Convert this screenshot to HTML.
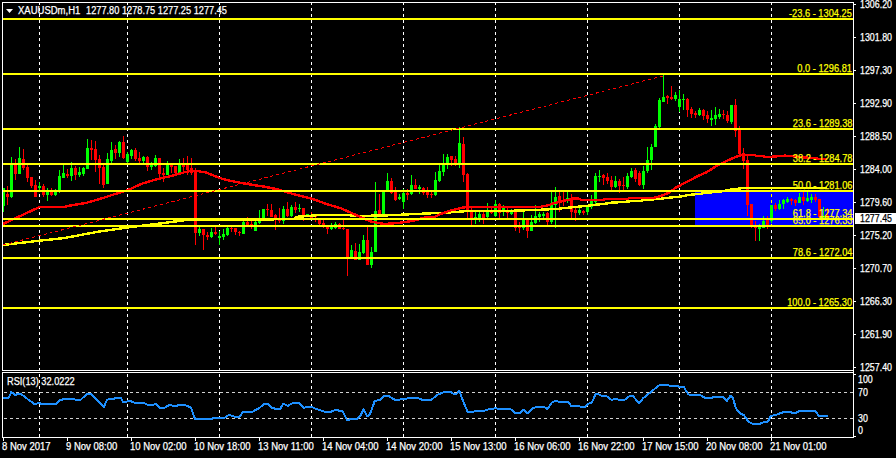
<!DOCTYPE html><html><head><meta charset="utf-8"><style>html,body{margin:0;padding:0;background:#000;overflow:hidden}body{width:896px;height:458px;position:relative;font-family:"Liberation Sans",sans-serif}svg{position:absolute;left:0;top:0}.t{position:absolute;color:#fff;font-size:10px;line-height:12px;white-space:nowrap;letter-spacing:0}.y{color:#ff0}.t{-webkit-text-stroke:0.25px currentColor}</style></head><body>
<svg width="896" height="458" viewBox="0 0 896 458" shape-rendering="crispEdges">
<rect width="896" height="458" fill="#000"/>
<rect x="695" y="191" width="158" height="35" fill="#0000ff"/>
<line x1="39.5" y1="3" x2="39.5" y2="370" stroke="#fff" stroke-width="1" stroke-dasharray="3 3" stroke-dashoffset="1"/>
<line x1="39.5" y1="373" x2="39.5" y2="437" stroke="#fff" stroke-width="1" stroke-dasharray="3 3" stroke-dashoffset="5"/>
<line x1="127.5" y1="3" x2="127.5" y2="370" stroke="#fff" stroke-width="1" stroke-dasharray="3 3" stroke-dashoffset="1"/>
<line x1="127.5" y1="373" x2="127.5" y2="437" stroke="#fff" stroke-width="1" stroke-dasharray="3 3" stroke-dashoffset="5"/>
<line x1="219.5" y1="3" x2="219.5" y2="370" stroke="#fff" stroke-width="1" stroke-dasharray="3 3" stroke-dashoffset="1"/>
<line x1="219.5" y1="373" x2="219.5" y2="437" stroke="#fff" stroke-width="1" stroke-dasharray="3 3" stroke-dashoffset="5"/>
<line x1="311.5" y1="3" x2="311.5" y2="370" stroke="#fff" stroke-width="1" stroke-dasharray="3 3" stroke-dashoffset="1"/>
<line x1="311.5" y1="373" x2="311.5" y2="437" stroke="#fff" stroke-width="1" stroke-dasharray="3 3" stroke-dashoffset="5"/>
<line x1="403.5" y1="3" x2="403.5" y2="370" stroke="#fff" stroke-width="1" stroke-dasharray="3 3" stroke-dashoffset="1"/>
<line x1="403.5" y1="373" x2="403.5" y2="437" stroke="#fff" stroke-width="1" stroke-dasharray="3 3" stroke-dashoffset="5"/>
<line x1="495.5" y1="3" x2="495.5" y2="370" stroke="#fff" stroke-width="1" stroke-dasharray="3 3" stroke-dashoffset="1"/>
<line x1="495.5" y1="373" x2="495.5" y2="437" stroke="#fff" stroke-width="1" stroke-dasharray="3 3" stroke-dashoffset="5"/>
<line x1="587.5" y1="3" x2="587.5" y2="370" stroke="#fff" stroke-width="1" stroke-dasharray="3 3" stroke-dashoffset="1"/>
<line x1="587.5" y1="373" x2="587.5" y2="437" stroke="#fff" stroke-width="1" stroke-dasharray="3 3" stroke-dashoffset="5"/>
<line x1="679.5" y1="3" x2="679.5" y2="370" stroke="#fff" stroke-width="1" stroke-dasharray="3 3" stroke-dashoffset="1"/>
<line x1="679.5" y1="373" x2="679.5" y2="437" stroke="#fff" stroke-width="1" stroke-dasharray="3 3" stroke-dashoffset="5"/>
<line x1="771.5" y1="3" x2="771.5" y2="370" stroke="#fff" stroke-width="1" stroke-dasharray="3 3" stroke-dashoffset="1"/>
<line x1="771.5" y1="373" x2="771.5" y2="437" stroke="#fff" stroke-width="1" stroke-dasharray="3 3" stroke-dashoffset="5"/>
<line x1="771.5" y1="192" x2="771.5" y2="225" stroke="#ff0" stroke-width="1" stroke-dasharray="3 3" stroke-dashoffset="4"/>
<rect x="3" y="188" width="1" height="24" fill="#00ff00"/>
<rect x="3" y="188" width="2" height="18" fill="#00ff00"/>
<rect x="7" y="186" width="1" height="19" fill="#ff0000"/>
<rect x="6" y="194" width="3" height="3" fill="#ff0000"/>
<rect x="11" y="157" width="1" height="41" fill="#00ff00"/>
<rect x="10" y="164" width="3" height="33" fill="#00ff00"/>
<rect x="15" y="159" width="1" height="21" fill="#ff0000"/>
<rect x="14" y="164" width="3" height="10" fill="#ff0000"/>
<rect x="19" y="147" width="1" height="27" fill="#00ff00"/>
<rect x="18" y="158" width="3" height="16" fill="#00ff00"/>
<rect x="23" y="149" width="1" height="21" fill="#ff0000"/>
<rect x="22" y="159" width="3" height="9" fill="#ff0000"/>
<rect x="27" y="165" width="1" height="17" fill="#ff0000"/>
<rect x="26" y="167" width="3" height="11" fill="#ff0000"/>
<rect x="31" y="177" width="1" height="11" fill="#ff0000"/>
<rect x="30" y="177" width="3" height="9" fill="#ff0000"/>
<rect x="35" y="180" width="1" height="17" fill="#ff0000"/>
<rect x="34" y="185" width="3" height="12" fill="#ff0000"/>
<rect x="39" y="182" width="1" height="10" fill="#00ff00"/>
<rect x="38" y="186" width="3" height="2" fill="#00ff00"/>
<rect x="43" y="184" width="1" height="13" fill="#ff0000"/>
<rect x="42" y="186" width="3" height="9" fill="#ff0000"/>
<rect x="47" y="188" width="1" height="13" fill="#00ff00"/>
<rect x="46" y="192" width="3" height="3" fill="#00ff00"/>
<rect x="51" y="188" width="1" height="8" fill="#ff0000"/>
<rect x="50" y="192" width="3" height="3" fill="#ff0000"/>
<rect x="55" y="189" width="1" height="7" fill="#00ff00"/>
<rect x="54" y="192" width="3" height="3" fill="#00ff00"/>
<rect x="59" y="170" width="1" height="23" fill="#00ff00"/>
<rect x="58" y="176" width="3" height="15" fill="#00ff00"/>
<rect x="63" y="165" width="1" height="13" fill="#00ff00"/>
<rect x="62" y="173" width="3" height="5" fill="#00ff00"/>
<rect x="67" y="169" width="1" height="9" fill="#ff0000"/>
<rect x="66" y="174" width="3" height="2" fill="#ff0000"/>
<rect x="71" y="162" width="1" height="19" fill="#00ff00"/>
<rect x="70" y="168" width="3" height="8" fill="#00ff00"/>
<rect x="75" y="166" width="1" height="14" fill="#ff0000"/>
<rect x="74" y="168" width="3" height="7" fill="#ff0000"/>
<rect x="79" y="167" width="1" height="10" fill="#00ff00"/>
<rect x="78" y="172" width="3" height="3" fill="#00ff00"/>
<rect x="83" y="167" width="1" height="9" fill="#00ff00"/>
<rect x="82" y="168" width="3" height="6" fill="#00ff00"/>
<rect x="87" y="139" width="1" height="30" fill="#00ff00"/>
<rect x="86" y="148" width="3" height="21" fill="#00ff00"/>
<rect x="91" y="140" width="1" height="20" fill="#ff0000"/>
<rect x="90" y="148" width="3" height="2" fill="#ff0000"/>
<rect x="95" y="141" width="1" height="31" fill="#ff0000"/>
<rect x="94" y="149" width="3" height="11" fill="#ff0000"/>
<rect x="99" y="155" width="1" height="29" fill="#ff0000"/>
<rect x="98" y="159" width="3" height="9" fill="#ff0000"/>
<rect x="103" y="165" width="1" height="23" fill="#ff0000"/>
<rect x="102" y="167" width="3" height="18" fill="#ff0000"/>
<rect x="107" y="153" width="1" height="31" fill="#00ff00"/>
<rect x="106" y="159" width="3" height="25" fill="#00ff00"/>
<rect x="111" y="142" width="1" height="21" fill="#00ff00"/>
<rect x="110" y="150" width="3" height="11" fill="#00ff00"/>
<rect x="115" y="145" width="1" height="14" fill="#ff0000"/>
<rect x="114" y="149" width="3" height="4" fill="#ff0000"/>
<rect x="119" y="141" width="1" height="16" fill="#00ff00"/>
<rect x="118" y="142" width="3" height="11" fill="#00ff00"/>
<rect x="123" y="136" width="1" height="23" fill="#ff0000"/>
<rect x="122" y="142" width="3" height="16" fill="#ff0000"/>
<rect x="127" y="152" width="1" height="12" fill="#00ff00"/>
<rect x="126" y="154" width="3" height="8" fill="#00ff00"/>
<rect x="131" y="149" width="1" height="10" fill="#00ff00"/>
<rect x="130" y="150" width="3" height="6" fill="#00ff00"/>
<rect x="135" y="148" width="1" height="13" fill="#ff0000"/>
<rect x="134" y="150" width="3" height="9" fill="#ff0000"/>
<rect x="139" y="152" width="1" height="11" fill="#ff0000"/>
<rect x="138" y="158" width="3" height="3" fill="#ff0000"/>
<rect x="143" y="156" width="1" height="7" fill="#00ff00"/>
<rect x="142" y="157" width="3" height="4" fill="#00ff00"/>
<rect x="147" y="156" width="1" height="15" fill="#ff0000"/>
<rect x="146" y="157" width="3" height="10" fill="#ff0000"/>
<rect x="151" y="162" width="1" height="8" fill="#00ff00"/>
<rect x="150" y="164" width="3" height="3" fill="#00ff00"/>
<rect x="155" y="155" width="1" height="12" fill="#00ff00"/>
<rect x="154" y="158" width="3" height="8" fill="#00ff00"/>
<rect x="159" y="158" width="1" height="20" fill="#ff0000"/>
<rect x="158" y="158" width="3" height="16" fill="#ff0000"/>
<rect x="163" y="168" width="1" height="14" fill="#ff0000"/>
<rect x="162" y="173" width="3" height="2" fill="#ff0000"/>
<rect x="167" y="161" width="1" height="14" fill="#00ff00"/>
<rect x="166" y="165" width="3" height="10" fill="#00ff00"/>
<rect x="171" y="163" width="1" height="10" fill="#ff0000"/>
<rect x="170" y="165" width="3" height="2" fill="#ff0000"/>
<rect x="175" y="166" width="1" height="8" fill="#ff0000"/>
<rect x="174" y="166" width="3" height="7" fill="#ff0000"/>
<rect x="179" y="159" width="1" height="14" fill="#00ff00"/>
<rect x="178" y="165" width="3" height="8" fill="#00ff00"/>
<rect x="183" y="158" width="1" height="14" fill="#ff0000"/>
<rect x="182" y="165" width="3" height="2" fill="#ff0000"/>
<rect x="187" y="156" width="1" height="19" fill="#ff0000"/>
<rect x="186" y="164" width="3" height="6" fill="#ff0000"/>
<rect x="191" y="158" width="1" height="17" fill="#ff0000"/>
<rect x="190" y="168" width="3" height="5" fill="#ff0000"/>
<rect x="195" y="168" width="1" height="77" fill="#ff0000"/>
<rect x="194" y="171" width="3" height="62" fill="#ff0000"/>
<rect x="199" y="227" width="1" height="9" fill="#00ff00"/>
<rect x="198" y="229" width="3" height="4" fill="#00ff00"/>
<rect x="203" y="229" width="1" height="21" fill="#ff0000"/>
<rect x="202" y="229" width="3" height="6" fill="#ff0000"/>
<rect x="207" y="232" width="1" height="8" fill="#ff0000"/>
<rect x="206" y="235" width="3" height="2" fill="#ff0000"/>
<rect x="211" y="228" width="1" height="10" fill="#00ff00"/>
<rect x="210" y="232" width="3" height="5" fill="#00ff00"/>
<rect x="215" y="227" width="1" height="8" fill="#ff0000"/>
<rect x="214" y="232" width="3" height="2" fill="#ff0000"/>
<rect x="219" y="231" width="1" height="14" fill="#00ff00"/>
<rect x="218" y="236" width="3" height="2" fill="#00ff00"/>
<rect x="223" y="229" width="1" height="11" fill="#00ff00"/>
<rect x="222" y="234" width="3" height="3" fill="#00ff00"/>
<rect x="227" y="227" width="1" height="9" fill="#00ff00"/>
<rect x="226" y="228" width="3" height="7" fill="#00ff00"/>
<rect x="231" y="227" width="1" height="5" fill="#ff0000"/>
<rect x="230" y="228" width="3" height="1" fill="#ff0000"/>
<rect x="235" y="228" width="1" height="7" fill="#ff0000"/>
<rect x="234" y="228" width="3" height="4" fill="#ff0000"/>
<rect x="239" y="231" width="1" height="5" fill="#ff0000"/>
<rect x="238" y="232" width="3" height="1" fill="#ff0000"/>
<rect x="243" y="221" width="1" height="13" fill="#00ff00"/>
<rect x="242" y="222" width="3" height="12" fill="#00ff00"/>
<rect x="247" y="217" width="1" height="10" fill="#ff0000"/>
<rect x="246" y="222" width="3" height="3" fill="#ff0000"/>
<rect x="251" y="221" width="1" height="8" fill="#ff0000"/>
<rect x="250" y="224" width="3" height="1" fill="#ff0000"/>
<rect x="255" y="221" width="1" height="10" fill="#00ff00"/>
<rect x="254" y="222" width="3" height="9" fill="#00ff00"/>
<rect x="259" y="210" width="1" height="14" fill="#00ff00"/>
<rect x="258" y="218" width="3" height="5" fill="#00ff00"/>
<rect x="263" y="209" width="1" height="10" fill="#00ff00"/>
<rect x="262" y="209" width="3" height="10" fill="#00ff00"/>
<rect x="267" y="204" width="1" height="12" fill="#ff0000"/>
<rect x="266" y="209" width="3" height="1" fill="#ff0000"/>
<rect x="271" y="204" width="1" height="13" fill="#ff0000"/>
<rect x="270" y="210" width="3" height="7" fill="#ff0000"/>
<rect x="275" y="214" width="1" height="16" fill="#ff0000"/>
<rect x="274" y="215" width="3" height="4" fill="#ff0000"/>
<rect x="279" y="208" width="1" height="15" fill="#ff0000"/>
<rect x="278" y="220" width="3" height="1" fill="#ff0000"/>
<rect x="283" y="206" width="1" height="18" fill="#00ff00"/>
<rect x="282" y="209" width="3" height="12" fill="#00ff00"/>
<rect x="287" y="202" width="1" height="15" fill="#ff0000"/>
<rect x="286" y="209" width="3" height="7" fill="#ff0000"/>
<rect x="291" y="205" width="1" height="12" fill="#00ff00"/>
<rect x="290" y="207" width="3" height="9" fill="#00ff00"/>
<rect x="295" y="202" width="1" height="11" fill="#ff0000"/>
<rect x="294" y="207" width="3" height="3" fill="#ff0000"/>
<rect x="299" y="204" width="1" height="8" fill="#00ff00"/>
<rect x="298" y="208" width="3" height="1" fill="#00ff00"/>
<rect x="303" y="208" width="1" height="13" fill="#ff0000"/>
<rect x="302" y="208" width="3" height="8" fill="#ff0000"/>
<rect x="307" y="214" width="1" height="2" fill="#00ff00"/>
<rect x="306" y="214" width="3" height="2" fill="#00ff00"/>
<rect x="311" y="212" width="1" height="8" fill="#ff0000"/>
<rect x="310" y="217" width="3" height="2" fill="#ff0000"/>
<rect x="315" y="214" width="1" height="8" fill="#ff0000"/>
<rect x="314" y="215" width="3" height="2" fill="#ff0000"/>
<rect x="319" y="219" width="1" height="6" fill="#ff0000"/>
<rect x="318" y="219" width="3" height="5" fill="#ff0000"/>
<rect x="323" y="220" width="1" height="8" fill="#ff0000"/>
<rect x="322" y="223" width="3" height="2" fill="#ff0000"/>
<rect x="327" y="227" width="1" height="7" fill="#ff0000"/>
<rect x="326" y="227" width="3" height="2" fill="#ff0000"/>
<rect x="331" y="223" width="1" height="7" fill="#00ff00"/>
<rect x="330" y="227" width="3" height="2" fill="#00ff00"/>
<rect x="335" y="222" width="1" height="7" fill="#00ff00"/>
<rect x="334" y="224" width="3" height="4" fill="#00ff00"/>
<rect x="339" y="223" width="1" height="6" fill="#ff0000"/>
<rect x="338" y="224" width="3" height="5" fill="#ff0000"/>
<rect x="343" y="220" width="1" height="10" fill="#ff0000"/>
<rect x="342" y="228" width="3" height="1" fill="#ff0000"/>
<rect x="347" y="229" width="1" height="47" fill="#ff0000"/>
<rect x="346" y="229" width="3" height="28" fill="#ff0000"/>
<rect x="351" y="245" width="1" height="12" fill="#00ff00"/>
<rect x="350" y="250" width="3" height="7" fill="#00ff00"/>
<rect x="355" y="243" width="1" height="17" fill="#ff0000"/>
<rect x="354" y="251" width="3" height="9" fill="#ff0000"/>
<rect x="359" y="244" width="1" height="16" fill="#00ff00"/>
<rect x="358" y="252" width="3" height="8" fill="#00ff00"/>
<rect x="363" y="235" width="1" height="19" fill="#00ff00"/>
<rect x="362" y="240" width="3" height="13" fill="#00ff00"/>
<rect x="367" y="227" width="1" height="38" fill="#ff0000"/>
<rect x="366" y="240" width="3" height="25" fill="#ff0000"/>
<rect x="371" y="247" width="1" height="21" fill="#00ff00"/>
<rect x="370" y="252" width="3" height="13" fill="#00ff00"/>
<rect x="375" y="182" width="1" height="70" fill="#00ff00"/>
<rect x="374" y="211" width="3" height="41" fill="#00ff00"/>
<rect x="379" y="194" width="1" height="21" fill="#ff0000"/>
<rect x="378" y="210" width="3" height="4" fill="#ff0000"/>
<rect x="383" y="192" width="1" height="22" fill="#00ff00"/>
<rect x="382" y="192" width="3" height="22" fill="#00ff00"/>
<rect x="387" y="173" width="1" height="19" fill="#00ff00"/>
<rect x="386" y="181" width="3" height="11" fill="#00ff00"/>
<rect x="391" y="178" width="1" height="16" fill="#ff0000"/>
<rect x="390" y="181" width="3" height="12" fill="#ff0000"/>
<rect x="395" y="187" width="1" height="14" fill="#ff0000"/>
<rect x="394" y="192" width="3" height="8" fill="#ff0000"/>
<rect x="399" y="194" width="1" height="6" fill="#00ff00"/>
<rect x="398" y="197" width="3" height="2" fill="#00ff00"/>
<rect x="403" y="189" width="1" height="20" fill="#00ff00"/>
<rect x="402" y="193" width="3" height="9" fill="#00ff00"/>
<rect x="407" y="189" width="1" height="11" fill="#ff0000"/>
<rect x="406" y="193" width="3" height="2" fill="#ff0000"/>
<rect x="411" y="175" width="1" height="20" fill="#00ff00"/>
<rect x="410" y="185" width="3" height="9" fill="#00ff00"/>
<rect x="415" y="179" width="1" height="10" fill="#ff0000"/>
<rect x="414" y="185" width="3" height="4" fill="#ff0000"/>
<rect x="419" y="185" width="1" height="9" fill="#00ff00"/>
<rect x="418" y="187" width="3" height="2" fill="#00ff00"/>
<rect x="423" y="187" width="1" height="8" fill="#ff0000"/>
<rect x="422" y="188" width="3" height="5" fill="#ff0000"/>
<rect x="427" y="187" width="1" height="11" fill="#ff0000"/>
<rect x="426" y="192" width="3" height="3" fill="#ff0000"/>
<rect x="431" y="192" width="1" height="6" fill="#ff0000"/>
<rect x="430" y="194" width="3" height="1" fill="#ff0000"/>
<rect x="435" y="172" width="1" height="24" fill="#00ff00"/>
<rect x="434" y="180" width="3" height="15" fill="#00ff00"/>
<rect x="439" y="165" width="1" height="17" fill="#00ff00"/>
<rect x="438" y="171" width="3" height="10" fill="#00ff00"/>
<rect x="443" y="154" width="1" height="22" fill="#00ff00"/>
<rect x="442" y="165" width="3" height="7" fill="#00ff00"/>
<rect x="447" y="154" width="1" height="15" fill="#00ff00"/>
<rect x="446" y="157" width="3" height="8" fill="#00ff00"/>
<rect x="451" y="156" width="1" height="10" fill="#ff0000"/>
<rect x="450" y="156" width="3" height="4" fill="#ff0000"/>
<rect x="455" y="156" width="1" height="10" fill="#ff0000"/>
<rect x="454" y="159" width="3" height="4" fill="#ff0000"/>
<rect x="459" y="127" width="1" height="41" fill="#00ff00"/>
<rect x="458" y="143" width="3" height="22" fill="#00ff00"/>
<rect x="463" y="137" width="1" height="45" fill="#ff0000"/>
<rect x="462" y="144" width="3" height="31" fill="#ff0000"/>
<rect x="467" y="173" width="1" height="45" fill="#ff0000"/>
<rect x="466" y="174" width="3" height="37" fill="#ff0000"/>
<rect x="471" y="208" width="1" height="17" fill="#ff0000"/>
<rect x="470" y="212" width="3" height="6" fill="#ff0000"/>
<rect x="475" y="212" width="1" height="12" fill="#00ff00"/>
<rect x="474" y="217" width="3" height="1" fill="#00ff00"/>
<rect x="479" y="212" width="1" height="10" fill="#00ff00"/>
<rect x="478" y="214" width="3" height="4" fill="#00ff00"/>
<rect x="483" y="212" width="1" height="12" fill="#ff0000"/>
<rect x="482" y="214" width="3" height="4" fill="#ff0000"/>
<rect x="487" y="203" width="1" height="15" fill="#00ff00"/>
<rect x="486" y="212" width="3" height="5" fill="#00ff00"/>
<rect x="491" y="207" width="1" height="7" fill="#ff0000"/>
<rect x="490" y="212" width="3" height="1" fill="#ff0000"/>
<rect x="495" y="200" width="1" height="17" fill="#00ff00"/>
<rect x="494" y="204" width="3" height="12" fill="#00ff00"/>
<rect x="499" y="203" width="1" height="15" fill="#ff0000"/>
<rect x="498" y="204" width="3" height="9" fill="#ff0000"/>
<rect x="503" y="205" width="1" height="11" fill="#00ff00"/>
<rect x="502" y="208" width="3" height="4" fill="#00ff00"/>
<rect x="507" y="208" width="1" height="10" fill="#ff0000"/>
<rect x="506" y="210" width="3" height="3" fill="#ff0000"/>
<rect x="511" y="209" width="1" height="6" fill="#00ff00"/>
<rect x="510" y="211" width="3" height="3" fill="#00ff00"/>
<rect x="515" y="211" width="1" height="20" fill="#ff0000"/>
<rect x="514" y="212" width="3" height="16" fill="#ff0000"/>
<rect x="519" y="222" width="1" height="11" fill="#ff0000"/>
<rect x="518" y="225" width="3" height="3" fill="#ff0000"/>
<rect x="523" y="212" width="1" height="18" fill="#00ff00"/>
<rect x="522" y="220" width="3" height="8" fill="#00ff00"/>
<rect x="527" y="220" width="1" height="18" fill="#ff0000"/>
<rect x="526" y="220" width="3" height="11" fill="#ff0000"/>
<rect x="531" y="215" width="1" height="16" fill="#00ff00"/>
<rect x="530" y="222" width="3" height="9" fill="#00ff00"/>
<rect x="535" y="205" width="1" height="19" fill="#00ff00"/>
<rect x="534" y="216" width="3" height="7" fill="#00ff00"/>
<rect x="539" y="212" width="1" height="10" fill="#00ff00"/>
<rect x="538" y="214" width="3" height="3" fill="#00ff00"/>
<rect x="543" y="212" width="1" height="6" fill="#00ff00"/>
<rect x="542" y="214" width="3" height="2" fill="#00ff00"/>
<rect x="547" y="212" width="1" height="13" fill="#ff0000"/>
<rect x="546" y="213" width="3" height="9" fill="#ff0000"/>
<rect x="551" y="192" width="1" height="32" fill="#00ff00"/>
<rect x="550" y="205" width="3" height="17" fill="#00ff00"/>
<rect x="555" y="187" width="1" height="41" fill="#00ff00"/>
<rect x="554" y="197" width="3" height="8" fill="#00ff00"/>
<rect x="559" y="192" width="1" height="20" fill="#ff0000"/>
<rect x="558" y="196" width="3" height="5" fill="#ff0000"/>
<rect x="563" y="192" width="1" height="14" fill="#ff0000"/>
<rect x="562" y="200" width="3" height="2" fill="#ff0000"/>
<rect x="567" y="192" width="1" height="11" fill="#00ff00"/>
<rect x="566" y="198" width="3" height="2" fill="#00ff00"/>
<rect x="571" y="194" width="1" height="24" fill="#ff0000"/>
<rect x="570" y="199" width="3" height="13" fill="#ff0000"/>
<rect x="575" y="208" width="1" height="13" fill="#ff0000"/>
<rect x="574" y="210" width="3" height="3" fill="#ff0000"/>
<rect x="579" y="208" width="1" height="7" fill="#00ff00"/>
<rect x="578" y="210" width="3" height="3" fill="#00ff00"/>
<rect x="583" y="210" width="1" height="5" fill="#ff0000"/>
<rect x="582" y="211" width="3" height="2" fill="#ff0000"/>
<rect x="587" y="205" width="1" height="10" fill="#00ff00"/>
<rect x="586" y="207" width="3" height="5" fill="#00ff00"/>
<rect x="591" y="195" width="1" height="14" fill="#00ff00"/>
<rect x="590" y="201" width="3" height="6" fill="#00ff00"/>
<rect x="595" y="173" width="1" height="31" fill="#00ff00"/>
<rect x="594" y="176" width="3" height="26" fill="#00ff00"/>
<rect x="599" y="170" width="1" height="12" fill="#00ff00"/>
<rect x="598" y="176" width="3" height="1" fill="#00ff00"/>
<rect x="603" y="174" width="1" height="11" fill="#ff0000"/>
<rect x="602" y="175" width="3" height="3" fill="#ff0000"/>
<rect x="607" y="173" width="1" height="11" fill="#ff0000"/>
<rect x="606" y="177" width="3" height="4" fill="#ff0000"/>
<rect x="611" y="176" width="1" height="14" fill="#ff0000"/>
<rect x="610" y="180" width="3" height="7" fill="#ff0000"/>
<rect x="615" y="176" width="1" height="12" fill="#00ff00"/>
<rect x="614" y="181" width="3" height="6" fill="#00ff00"/>
<rect x="619" y="179" width="1" height="14" fill="#ff0000"/>
<rect x="618" y="181" width="3" height="5" fill="#ff0000"/>
<rect x="623" y="177" width="1" height="13" fill="#ff0000"/>
<rect x="622" y="185" width="3" height="1" fill="#ff0000"/>
<rect x="627" y="173" width="1" height="16" fill="#00ff00"/>
<rect x="626" y="176" width="3" height="11" fill="#00ff00"/>
<rect x="631" y="168" width="1" height="10" fill="#00ff00"/>
<rect x="630" y="171" width="3" height="6" fill="#00ff00"/>
<rect x="635" y="168" width="1" height="14" fill="#ff0000"/>
<rect x="634" y="170" width="3" height="9" fill="#ff0000"/>
<rect x="639" y="171" width="1" height="15" fill="#ff0000"/>
<rect x="638" y="173" width="3" height="12" fill="#ff0000"/>
<rect x="643" y="166" width="1" height="23" fill="#00ff00"/>
<rect x="642" y="171" width="3" height="14" fill="#00ff00"/>
<rect x="647" y="147" width="1" height="26" fill="#00ff00"/>
<rect x="646" y="160" width="3" height="11" fill="#00ff00"/>
<rect x="651" y="144" width="1" height="26" fill="#00ff00"/>
<rect x="650" y="147" width="3" height="13" fill="#00ff00"/>
<rect x="655" y="124" width="1" height="23" fill="#00ff00"/>
<rect x="654" y="126" width="3" height="21" fill="#00ff00"/>
<rect x="659" y="98" width="1" height="30" fill="#00ff00"/>
<rect x="658" y="100" width="3" height="27" fill="#00ff00"/>
<rect x="663" y="75" width="1" height="27" fill="#00ff00"/>
<rect x="662" y="97" width="3" height="5" fill="#00ff00"/>
<rect x="667" y="95" width="1" height="9" fill="#ff0000"/>
<rect x="666" y="96" width="3" height="2" fill="#ff0000"/>
<rect x="671" y="86" width="1" height="14" fill="#ff0000"/>
<rect x="670" y="97" width="3" height="2" fill="#ff0000"/>
<rect x="675" y="92" width="1" height="9" fill="#00ff00"/>
<rect x="674" y="95" width="3" height="4" fill="#00ff00"/>
<rect x="679" y="90" width="1" height="22" fill="#00ff00"/>
<rect x="678" y="99" width="3" height="8" fill="#00ff00"/>
<rect x="683" y="94" width="1" height="16" fill="#00ff00"/>
<rect x="682" y="99" width="3" height="1" fill="#00ff00"/>
<rect x="687" y="98" width="1" height="19" fill="#ff0000"/>
<rect x="686" y="99" width="3" height="11" fill="#ff0000"/>
<rect x="691" y="107" width="1" height="11" fill="#ff0000"/>
<rect x="690" y="109" width="3" height="5" fill="#ff0000"/>
<rect x="695" y="111" width="1" height="7" fill="#ff0000"/>
<rect x="694" y="113" width="3" height="2" fill="#ff0000"/>
<rect x="699" y="108" width="1" height="8" fill="#00ff00"/>
<rect x="698" y="110" width="3" height="5" fill="#00ff00"/>
<rect x="703" y="109" width="1" height="11" fill="#ff0000"/>
<rect x="702" y="110" width="3" height="6" fill="#ff0000"/>
<rect x="707" y="111" width="1" height="12" fill="#ff0000"/>
<rect x="706" y="115" width="3" height="4" fill="#ff0000"/>
<rect x="711" y="110" width="1" height="16" fill="#00ff00"/>
<rect x="710" y="118" width="3" height="2" fill="#00ff00"/>
<rect x="715" y="107" width="1" height="18" fill="#00ff00"/>
<rect x="714" y="115" width="3" height="4" fill="#00ff00"/>
<rect x="719" y="109" width="1" height="10" fill="#00ff00"/>
<rect x="718" y="114" width="3" height="3" fill="#00ff00"/>
<rect x="723" y="110" width="1" height="9" fill="#ff0000"/>
<rect x="722" y="114" width="3" height="1" fill="#ff0000"/>
<rect x="727" y="111" width="1" height="12" fill="#ff0000"/>
<rect x="726" y="115" width="3" height="6" fill="#ff0000"/>
<rect x="731" y="105" width="1" height="19" fill="#00ff00"/>
<rect x="730" y="105" width="3" height="17" fill="#00ff00"/>
<rect x="735" y="99" width="1" height="38" fill="#ff0000"/>
<rect x="734" y="105" width="3" height="26" fill="#ff0000"/>
<rect x="739" y="126" width="1" height="30" fill="#ff0000"/>
<rect x="738" y="129" width="3" height="25" fill="#ff0000"/>
<rect x="743" y="148" width="1" height="21" fill="#ff0000"/>
<rect x="742" y="153" width="3" height="8" fill="#ff0000"/>
<rect x="747" y="156" width="1" height="60" fill="#ff0000"/>
<rect x="746" y="160" width="3" height="45" fill="#ff0000"/>
<rect x="751" y="204" width="1" height="24" fill="#ff0000"/>
<rect x="750" y="204" width="3" height="23" fill="#ff0000"/>
<rect x="755" y="221" width="1" height="20" fill="#ff0000"/>
<rect x="754" y="226" width="3" height="2" fill="#ff0000"/>
<rect x="759" y="224" width="1" height="17" fill="#00ff00"/>
<rect x="758" y="227" width="3" height="2" fill="#00ff00"/>
<rect x="763" y="216" width="1" height="12" fill="#00ff00"/>
<rect x="762" y="221" width="3" height="7" fill="#00ff00"/>
<rect x="767" y="216" width="1" height="13" fill="#ff0000"/>
<rect x="766" y="220" width="3" height="6" fill="#ff0000"/>
<rect x="771" y="205" width="1" height="18" fill="#00ff00"/>
<rect x="770" y="205" width="3" height="16" fill="#00ff00"/>
<rect x="775" y="203" width="1" height="8" fill="#ff0000"/>
<rect x="774" y="205" width="3" height="4" fill="#ff0000"/>
<rect x="779" y="200" width="1" height="10" fill="#00ff00"/>
<rect x="778" y="204" width="3" height="5" fill="#00ff00"/>
<rect x="783" y="199" width="1" height="10" fill="#00ff00"/>
<rect x="782" y="200" width="3" height="4" fill="#00ff00"/>
<rect x="787" y="197" width="1" height="6" fill="#00ff00"/>
<rect x="786" y="199" width="3" height="3" fill="#00ff00"/>
<rect x="791" y="198" width="1" height="7" fill="#ff0000"/>
<rect x="790" y="199" width="3" height="2" fill="#ff0000"/>
<rect x="795" y="199" width="1" height="7" fill="#ff0000"/>
<rect x="794" y="200" width="3" height="3" fill="#ff0000"/>
<rect x="799" y="193" width="1" height="10" fill="#00ff00"/>
<rect x="798" y="197" width="3" height="6" fill="#00ff00"/>
<rect x="803" y="192" width="1" height="13" fill="#ff0000"/>
<rect x="802" y="197" width="3" height="4" fill="#ff0000"/>
<rect x="807" y="192" width="1" height="10" fill="#00ff00"/>
<rect x="806" y="198" width="3" height="3" fill="#00ff00"/>
<rect x="811" y="194" width="1" height="9" fill="#00ff00"/>
<rect x="810" y="197" width="3" height="3" fill="#00ff00"/>
<rect x="815" y="194" width="1" height="8" fill="#ff0000"/>
<rect x="814" y="197" width="3" height="3" fill="#ff0000"/>
<rect x="819" y="199" width="1" height="19" fill="#ff0000"/>
<rect x="818" y="199" width="3" height="18" fill="#ff0000"/>
<rect x="823" y="207" width="1" height="12" fill="#00ff00"/>
<rect x="822" y="216" width="3" height="2" fill="#00ff00"/>
<rect x="827" y="208" width="1" height="11" fill="#ff0000"/>
<rect x="826" y="215" width="3" height="3" fill="#ff0000"/>
<polyline fill="none" stroke="#ffff00" stroke-width="2.4" stroke-linejoin="round" points="3,245 39.5,240.7 64,238.1 100,231.4 128,227.4 160,223.5 188,219.8 256,219.8 268,219.4 294,219 297,216.8 308,216 320,215 350,215 352,216 384,215.5 416,214 448,212.5 468,211 512,210.8 540.6,209.7 556.3,209 565,208 576.3,206.9 587.7,205.7 596.3,204.7 605,203.7 612,202.6 625,201.9 632.7,200.9 640,200.9 644,200 660,198.9 668.6,197.7 677,197 684,196 688.6,194.9 700,193.9 704,192.9 720,191.7 728.6,189.9 737,188.9 744.3,187.7 768,187.7 827,188"/>
<polyline fill="none" stroke="#ff0000" stroke-width="2.4" stroke-linejoin="round" points="3,224 39.5,207 64,207 71.4,205.3 85.7,203 100,198.9 114.3,194.3 128,190 142,183.6 156.6,179.3 170.9,176 185.1,172.1 190.9,170.7 197,171 206.6,172.6 219.4,177.9 228,180.3 242.3,183.1 256,185.5 263,186.4 277.4,189.3 291.7,193.6 311.7,198.6 327.4,204.3 341.7,208.6 356,215 370.3,221.4 384,224 398,223 412.6,221 424,217.7 435.4,216.7 441,213.9 451,210.3 464,207.4 468.3,206.7 512,206.9 540,206.9 548,205.4 553.4,203.3 559,201.9 569,199.7 572,198.6 579,198.6 580.6,199.7 604,199.7 605,198.7 628,198.7 629,198 654,197.7 661,196 668.6,192.9 675.7,187.7 683,183.9 697,176.5 707,172 717,165.7 725.7,161.4 735.7,156.9 742.9,154.7 754.3,154.7 755.7,155.7 763,155.7 764.3,156.9 772,156.7 785,155.6 800,157 819,158.8 827,158.8"/>
<rect x="3" y="18" width="850" height="2" fill="#ff0"/>
<rect x="3" y="73" width="850" height="2" fill="#ff0"/>
<rect x="3" y="128" width="850" height="2" fill="#ff0"/>
<rect x="3" y="163" width="850" height="2" fill="#ff0"/>
<rect x="3" y="190" width="850" height="2" fill="#ff0"/>
<rect x="3" y="218" width="850" height="2" fill="#ff0"/>
<rect x="3" y="225" width="850" height="2" fill="#ff0"/>
<rect x="3" y="257" width="850" height="2" fill="#ff0"/>
<rect x="3" y="307" width="850" height="2" fill="#ff0"/>
<line x1="3" y1="245" x2="666" y2="75.2" stroke="#f00" stroke-width="1" stroke-dasharray="3 3"/>
<line x1="4" y1="392.5" x2="853" y2="392.5" stroke="#d0d0d0" stroke-dasharray="3 3"/>
<line x1="4" y1="418.5" x2="853" y2="418.5" stroke="#d0d0d0" stroke-dasharray="3 3"/>
<polyline fill="none" stroke="#1e90ff" stroke-width="2" stroke-linejoin="round" points="3,397.8 8.8,397.8 11.3,392 15.5,395 17.5,393.8 21,394 28.8,400 35,404.5 38.8,402.5 41,403.8 56,403.8 60,400 65,399 72.5,398.8 75,399.5 81,399.5 87,393.8 90.5,393.8 98.8,401.5 103.8,407 107,400 110,398.8 117.5,398.3 120.8,397.8 123,402 127.5,401.5 131,401.3 135,402.8 143.8,403 147.5,404.8 153.8,404.5 156,404 160,407.8 165,407.5 169.5,404.8 175,406.5 180,404.5 185,405 191,407.5 195,419 210,419 212.5,418.5 224,418 229,415 234,416.5 239.5,417 242.8,412 252.8,411.5 259,408.3 264,404 267.8,404 271.5,407.5 275.3,408.8 280.3,408.8 283.3,403.8 287.8,405.8 292.8,403 299,403 303.5,407.8 307.8,407 312.8,407.5 319,410 324,411.5 331.5,411.5 336,409.5 339,410.8 342.8,411.5 347.3,420.3 351.5,418.8 356,419.5 360.3,415.8 363.5,409.5 367.3,416.3 370.3,413.3 374.8,400.8 380.3,400 384,396.3 389,396.3 395.3,400 400.3,399.5 410.3,398 417.8,398 422,399.8 431.5,399.8 436.5,395.3 444,392 451,392 453.5,393.8 456.8,393.8 459.3,390.8 463,400.8 467.5,411.5 474.3,411.5 476.8,410.8 485,410.5 489.3,409 495.5,408.3 499.3,409 510.5,409 515,412.8 520,412.8 523.5,409.8 527.5,413.3 533,408.3 536.8,407 544.3,407 547.5,409 551.8,402.5 555.5,400.8 559.3,402 568.5,402 571,405.8 578,405.8 581.8,407 585.5,406.5 588,404 591.8,402.5 595.5,394.5 598,394 601.8,395.8 606.8,396.3 611.8,400 615.5,398.8 619.3,400 624.3,400 630,395.8 633,396.3 639.3,403.3 643,398.3 651,392 657.5,386.5 661,384.5 666,384.5 670,385.8 676,385.8 680,387 684,387 686,391.3 688.8,394.5 700,395 706,398.3 710,398.3 716,396.5 722.5,396.5 727,400.8 730.5,395.8 733,398.3 736,408.3 740,413.3 743.8,415 748.8,422 752.5,423.8 760,423.8 763.8,422 768,421.5 771,415.8 776,415 781,412.8 785,412 790,412 792.5,412.8 796,412.8 800,410.8 815,410.8 818.8,415.8 827.5,415.8"/>
<rect x="2.5" y="2.5" width="851" height="368" fill="none" stroke="#fff"/>
<rect x="2.5" y="372.5" width="851" height="65" fill="none" stroke="#fff"/>
<rect x="853" y="2" width="1" height="436" fill="#fff"/>
<rect x="854" y="4" width="2" height="1" fill="#fff"/>
<rect x="854" y="37" width="2" height="1" fill="#fff"/>
<rect x="854" y="70" width="2" height="1" fill="#fff"/>
<rect x="854" y="103" width="2" height="1" fill="#fff"/>
<rect x="854" y="136" width="2" height="1" fill="#fff"/>
<rect x="854" y="169" width="2" height="1" fill="#fff"/>
<rect x="854" y="202" width="2" height="1" fill="#fff"/>
<rect x="854" y="235" width="2" height="1" fill="#fff"/>
<rect x="854" y="268" width="2" height="1" fill="#fff"/>
<rect x="854" y="301" width="2" height="1" fill="#fff"/>
<rect x="854" y="334" width="2" height="1" fill="#fff"/>
<rect x="854" y="367" width="2" height="1" fill="#fff"/>
<rect x="854" y="374" width="2" height="1" fill="#fff"/>
<rect x="854" y="436" width="2" height="1" fill="#fff"/>
<rect x="3" y="438" width="1" height="3" fill="#fff"/>
<rect x="67" y="438" width="1" height="3" fill="#fff"/>
<rect x="131" y="438" width="1" height="3" fill="#fff"/>
<rect x="195" y="438" width="1" height="3" fill="#fff"/>
<rect x="259" y="438" width="1" height="3" fill="#fff"/>
<rect x="323" y="438" width="1" height="3" fill="#fff"/>
<rect x="387" y="438" width="1" height="3" fill="#fff"/>
<rect x="451" y="438" width="1" height="3" fill="#fff"/>
<rect x="515" y="438" width="1" height="3" fill="#fff"/>
<rect x="579" y="438" width="1" height="3" fill="#fff"/>
<rect x="643" y="438" width="1" height="3" fill="#fff"/>
<rect x="707" y="438" width="1" height="3" fill="#fff"/>
<rect x="771" y="438" width="1" height="3" fill="#fff"/>
<rect x="855" y="213" width="41" height="11" fill="#fff"/>
<polygon points="6,9 13,9 9.5,13" fill="#fff" shape-rendering="auto"/>
</svg>
<div class="t" style="top:5px;transform:scaleX(0.95);left:17.5px;transform-origin:0 50%;">XAUUSDm,H1</div>
<div class="t" style="top:5px;transform:scaleX(0.922);left:86px;transform-origin:0 50%;">1277.80 1278.75 1277.25 1277.45</div>
<div class="t" style="top:376px;transform:scaleX(0.922);left:7px;transform-origin:0 50%;">RSI(13) 32.0222</div>
<div class="t" style="top:-1px;transform:scaleX(0.885);left:859.5px;transform-origin:0 50%;">1306.20</div>
<div class="t" style="top:32px;transform:scaleX(0.885);left:859.5px;transform-origin:0 50%;">1301.80</div>
<div class="t" style="top:65px;transform:scaleX(0.885);left:859.5px;transform-origin:0 50%;">1297.30</div>
<div class="t" style="top:98px;transform:scaleX(0.885);left:859.5px;transform-origin:0 50%;">1292.90</div>
<div class="t" style="top:131px;transform:scaleX(0.885);left:859.5px;transform-origin:0 50%;">1288.50</div>
<div class="t" style="top:164px;transform:scaleX(0.885);left:859.5px;transform-origin:0 50%;">1284.00</div>
<div class="t" style="top:197px;transform:scaleX(0.885);left:859.5px;transform-origin:0 50%;">1279.60</div>
<div class="t" style="top:230px;transform:scaleX(0.885);left:859.5px;transform-origin:0 50%;">1275.20</div>
<div class="t" style="top:263px;transform:scaleX(0.885);left:859.5px;transform-origin:0 50%;">1270.70</div>
<div class="t" style="top:296px;transform:scaleX(0.885);left:859.5px;transform-origin:0 50%;">1266.30</div>
<div class="t" style="top:329px;transform:scaleX(0.885);left:859.5px;transform-origin:0 50%;">1261.90</div>
<div class="t" style="top:362px;transform:scaleX(0.885);left:859.5px;transform-origin:0 50%;">1257.40</div>
<div class="t" style="top:374px;transform:scaleX(0.885);left:857.5px;transform-origin:0 50%;">100</div>
<div class="t" style="top:387px;transform:scaleX(0.885);left:857.5px;transform-origin:0 50%;">70</div>
<div class="t" style="top:413px;transform:scaleX(0.885);left:857.5px;transform-origin:0 50%;">30</div>
<div class="t" style="top:425px;transform:scaleX(0.885);left:857.5px;transform-origin:0 50%;">0</div>
<div class="t" style="top:441px;transform:scaleX(0.95);left:2px;transform-origin:0 50%;">8 Nov 2017</div>
<div class="t" style="top:441px;transform:scaleX(0.95);left:66px;transform-origin:0 50%;">9 Nov 08:00</div>
<div class="t" style="top:441px;transform:scaleX(0.95);left:130px;transform-origin:0 50%;">10 Nov 02:00</div>
<div class="t" style="top:441px;transform:scaleX(0.95);left:194px;transform-origin:0 50%;">10 Nov 18:00</div>
<div class="t" style="top:441px;transform:scaleX(0.95);left:258px;transform-origin:0 50%;">13 Nov 11:00</div>
<div class="t" style="top:441px;transform:scaleX(0.95);left:322px;transform-origin:0 50%;">14 Nov 04:00</div>
<div class="t" style="top:441px;transform:scaleX(0.95);left:386px;transform-origin:0 50%;">14 Nov 20:00</div>
<div class="t" style="top:441px;transform:scaleX(0.95);left:450px;transform-origin:0 50%;">15 Nov 13:00</div>
<div class="t" style="top:441px;transform:scaleX(0.95);left:514px;transform-origin:0 50%;">16 Nov 06:00</div>
<div class="t" style="top:441px;transform:scaleX(0.95);left:578px;transform-origin:0 50%;">16 Nov 22:00</div>
<div class="t" style="top:441px;transform:scaleX(0.95);left:642px;transform-origin:0 50%;">17 Nov 15:00</div>
<div class="t" style="top:441px;transform:scaleX(0.95);left:706px;transform-origin:0 50%;">20 Nov 08:00</div>
<div class="t" style="top:441px;transform:scaleX(0.95);left:770px;transform-origin:0 50%;">21 Nov 01:00</div>
<div class="t" style="top:8px;transform:scaleX(0.926);right:44px;transform-origin:100% 50%;color:#ff0;">-23.6 - 1304.25</div>
<div class="t" style="top:63px;transform:scaleX(0.926);right:44px;transform-origin:100% 50%;color:#ff0;">0.0 - 1296.81</div>
<div class="t" style="top:118px;transform:scaleX(0.926);right:44px;transform-origin:100% 50%;color:#ff0;">23.6 - 1289.38</div>
<div class="t" style="top:153px;transform:scaleX(0.926);right:44px;transform-origin:100% 50%;color:#ff0;">38.2 - 1284.78</div>
<div class="t" style="top:180px;transform:scaleX(0.926);right:44px;transform-origin:100% 50%;color:#ff0;">50.0 - 1281.06</div>
<div class="t" style="top:208px;transform:scaleX(0.926);right:44px;transform-origin:100% 50%;color:#ff0;">61.8 - 1277.34</div>
<div class="t" style="top:215px;transform:scaleX(0.926);right:44px;transform-origin:100% 50%;color:#ff0;">65.0 - 1276.33</div>
<div class="t" style="top:247px;transform:scaleX(0.926);right:44px;transform-origin:100% 50%;color:#ff0;">78.6 - 1272.04</div>
<div class="t" style="top:297px;transform:scaleX(0.926);right:44px;transform-origin:100% 50%;color:#ff0;">100.0 - 1265.30</div>
<div class="t" style="top:213px;transform:scaleX(0.885);left:859.5px;transform-origin:0 50%;color:#000;">1277.45</div>
</body></html>
